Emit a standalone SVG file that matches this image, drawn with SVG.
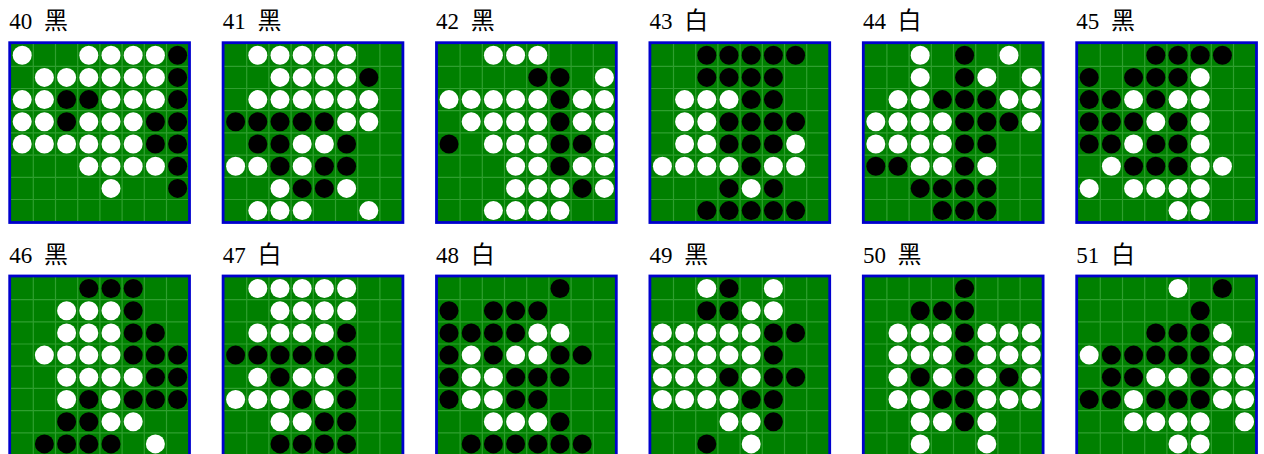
<svg xmlns="http://www.w3.org/2000/svg" xmlns:xlink="http://www.w3.org/1999/xlink" width="1264" height="454" viewBox="0 0 1264 454">
<style>
.lbl{font-family:"Liberation Serif",serif;font-size:23px;fill:#000}
.cjk{font-family:"Noto Sans CJK SC",sans-serif;font-size:24px}
</style>
<defs>
<g id="bd">
<rect width="182.6" height="182.6" fill="#0000cd"/>
<rect x="2.8" y="2.8" width="177" height="177" fill="#008000"/>
<path d="M25 2.8V179.8M47.2 2.8V179.8M69.4 2.8V179.8M91.6 2.8V179.8M113.8 2.8V179.8M136 2.8V179.8M158.2 2.8V179.8M2.8 25H179.8M2.8 47.2H179.8M2.8 69.4H179.8M2.8 91.6H179.8M2.8 113.8H179.8M2.8 136H179.8M2.8 158.2H179.8" stroke="#2f9f2f" stroke-width="1.2" fill="none"/>
</g>
<circle id="w" cx="13.9" cy="13.9" r="9.5" fill="#fff"/>
<circle id="k" cx="13.9" cy="13.9" r="9.5" fill="#000"/>
</defs>

<g id="label-40"><text class="lbl" x="9.3" y="29.3">40<tspan class="cjk" x="44">黑</tspan></text></g>
<g id="board-40" transform="translate(8.3,41.3)">
<use href="#bd"/>
<use href="#w" x="0" y="0"/><use href="#w" x="66.6" y="0"/><use href="#w" x="88.8" y="0"/><use href="#w" x="111" y="0"/><use href="#w" x="133.2" y="0"/><use href="#k" x="155.4" y="0"/>
<use href="#w" x="22.2" y="22.2"/><use href="#w" x="44.4" y="22.2"/><use href="#w" x="66.6" y="22.2"/><use href="#w" x="88.8" y="22.2"/><use href="#w" x="111" y="22.2"/><use href="#w" x="133.2" y="22.2"/><use href="#k" x="155.4" y="22.2"/>
<use href="#w" x="0" y="44.4"/><use href="#w" x="22.2" y="44.4"/><use href="#k" x="44.4" y="44.4"/><use href="#k" x="66.6" y="44.4"/><use href="#w" x="88.8" y="44.4"/><use href="#w" x="111" y="44.4"/><use href="#w" x="133.2" y="44.4"/><use href="#k" x="155.4" y="44.4"/>
<use href="#w" x="0" y="66.6"/><use href="#w" x="22.2" y="66.6"/><use href="#k" x="44.4" y="66.6"/><use href="#w" x="66.6" y="66.6"/><use href="#w" x="88.8" y="66.6"/><use href="#w" x="111" y="66.6"/><use href="#k" x="133.2" y="66.6"/><use href="#k" x="155.4" y="66.6"/>
<use href="#w" x="0" y="88.8"/><use href="#w" x="22.2" y="88.8"/><use href="#w" x="44.4" y="88.8"/><use href="#w" x="66.6" y="88.8"/><use href="#w" x="88.8" y="88.8"/><use href="#w" x="111" y="88.8"/><use href="#k" x="133.2" y="88.8"/><use href="#k" x="155.4" y="88.8"/>
<use href="#w" x="66.6" y="111"/><use href="#w" x="88.8" y="111"/><use href="#w" x="111" y="111"/><use href="#w" x="133.2" y="111"/><use href="#k" x="155.4" y="111"/>
<use href="#w" x="88.8" y="133.2"/><use href="#k" x="155.4" y="133.2"/>
</g>

<g id="label-41"><text class="lbl" x="222.7" y="29.3">41<tspan class="cjk" x="257.4">黑</tspan></text></g>
<g id="board-41" transform="translate(221.7,41.3)">
<use href="#bd"/>
<use href="#w" x="22.2" y="0"/><use href="#w" x="44.4" y="0"/><use href="#w" x="66.6" y="0"/><use href="#w" x="88.8" y="0"/><use href="#w" x="111" y="0"/>
<use href="#w" x="44.4" y="22.2"/><use href="#w" x="66.6" y="22.2"/><use href="#w" x="88.8" y="22.2"/><use href="#w" x="111" y="22.2"/><use href="#k" x="133.2" y="22.2"/>
<use href="#w" x="22.2" y="44.4"/><use href="#w" x="44.4" y="44.4"/><use href="#w" x="66.6" y="44.4"/><use href="#w" x="88.8" y="44.4"/><use href="#w" x="111" y="44.4"/><use href="#w" x="133.2" y="44.4"/>
<use href="#k" x="0" y="66.6"/><use href="#k" x="22.2" y="66.6"/><use href="#k" x="44.4" y="66.6"/><use href="#k" x="66.6" y="66.6"/><use href="#k" x="88.8" y="66.6"/><use href="#w" x="111" y="66.6"/><use href="#w" x="133.2" y="66.6"/>
<use href="#k" x="22.2" y="88.8"/><use href="#k" x="44.4" y="88.8"/><use href="#w" x="66.6" y="88.8"/><use href="#w" x="88.8" y="88.8"/><use href="#k" x="111" y="88.8"/>
<use href="#w" x="0" y="111"/><use href="#w" x="22.2" y="111"/><use href="#k" x="44.4" y="111"/><use href="#w" x="66.6" y="111"/><use href="#k" x="88.8" y="111"/><use href="#k" x="111" y="111"/>
<use href="#w" x="44.4" y="133.2"/><use href="#k" x="66.6" y="133.2"/><use href="#k" x="88.8" y="133.2"/><use href="#w" x="111" y="133.2"/>
<use href="#w" x="22.2" y="155.4"/><use href="#w" x="44.4" y="155.4"/><use href="#w" x="66.6" y="155.4"/><use href="#w" x="133.2" y="155.4"/>
</g>

<g id="label-42"><text class="lbl" x="436.1" y="29.3">42<tspan class="cjk" x="470.8">黑</tspan></text></g>
<g id="board-42" transform="translate(435.1,41.3)">
<use href="#bd"/>
<use href="#w" x="44.4" y="0"/><use href="#w" x="66.6" y="0"/><use href="#w" x="88.8" y="0"/>
<use href="#k" x="88.8" y="22.2"/><use href="#k" x="111" y="22.2"/><use href="#w" x="155.4" y="22.2"/>
<use href="#w" x="0" y="44.4"/><use href="#w" x="22.2" y="44.4"/><use href="#w" x="44.4" y="44.4"/><use href="#w" x="66.6" y="44.4"/><use href="#w" x="88.8" y="44.4"/><use href="#k" x="111" y="44.4"/><use href="#w" x="133.2" y="44.4"/><use href="#w" x="155.4" y="44.4"/>
<use href="#w" x="22.2" y="66.6"/><use href="#w" x="44.4" y="66.6"/><use href="#w" x="66.6" y="66.6"/><use href="#w" x="88.8" y="66.6"/><use href="#k" x="111" y="66.6"/><use href="#w" x="133.2" y="66.6"/><use href="#w" x="155.4" y="66.6"/>
<use href="#k" x="0" y="88.8"/><use href="#w" x="44.4" y="88.8"/><use href="#w" x="66.6" y="88.8"/><use href="#w" x="88.8" y="88.8"/><use href="#k" x="111" y="88.8"/><use href="#k" x="133.2" y="88.8"/><use href="#w" x="155.4" y="88.8"/>
<use href="#w" x="66.6" y="111"/><use href="#w" x="88.8" y="111"/><use href="#k" x="111" y="111"/><use href="#w" x="133.2" y="111"/><use href="#w" x="155.4" y="111"/>
<use href="#w" x="66.6" y="133.2"/><use href="#w" x="88.8" y="133.2"/><use href="#w" x="111" y="133.2"/><use href="#k" x="133.2" y="133.2"/><use href="#w" x="155.4" y="133.2"/>
<use href="#w" x="44.4" y="155.4"/><use href="#w" x="66.6" y="155.4"/><use href="#w" x="88.8" y="155.4"/><use href="#w" x="111" y="155.4"/>
</g>

<g id="label-43"><text class="lbl" x="649.5" y="29.3">43<tspan class="cjk" x="684.2">白</tspan></text></g>
<g id="board-43" transform="translate(648.5,41.3)">
<use href="#bd"/>
<use href="#k" x="44.4" y="0"/><use href="#k" x="66.6" y="0"/><use href="#k" x="88.8" y="0"/><use href="#k" x="111" y="0"/><use href="#k" x="133.2" y="0"/>
<use href="#k" x="44.4" y="22.2"/><use href="#k" x="66.6" y="22.2"/><use href="#k" x="88.8" y="22.2"/><use href="#k" x="111" y="22.2"/>
<use href="#w" x="22.2" y="44.4"/><use href="#w" x="44.4" y="44.4"/><use href="#w" x="66.6" y="44.4"/><use href="#k" x="88.8" y="44.4"/><use href="#k" x="111" y="44.4"/>
<use href="#w" x="22.2" y="66.6"/><use href="#w" x="44.4" y="66.6"/><use href="#k" x="66.6" y="66.6"/><use href="#k" x="88.8" y="66.6"/><use href="#k" x="111" y="66.6"/><use href="#k" x="133.2" y="66.6"/>
<use href="#w" x="22.2" y="88.8"/><use href="#w" x="44.4" y="88.8"/><use href="#k" x="66.6" y="88.8"/><use href="#k" x="88.8" y="88.8"/><use href="#k" x="111" y="88.8"/><use href="#w" x="133.2" y="88.8"/>
<use href="#w" x="0" y="111"/><use href="#w" x="22.2" y="111"/><use href="#w" x="44.4" y="111"/><use href="#w" x="66.6" y="111"/><use href="#k" x="88.8" y="111"/><use href="#w" x="111" y="111"/><use href="#w" x="133.2" y="111"/>
<use href="#k" x="66.6" y="133.2"/><use href="#w" x="88.8" y="133.2"/><use href="#k" x="111" y="133.2"/>
<use href="#k" x="44.4" y="155.4"/><use href="#k" x="66.6" y="155.4"/><use href="#k" x="88.8" y="155.4"/><use href="#k" x="111" y="155.4"/><use href="#k" x="133.2" y="155.4"/>
</g>

<g id="label-44"><text class="lbl" x="862.9" y="29.3">44<tspan class="cjk" x="897.6">白</tspan></text></g>
<g id="board-44" transform="translate(861.9,41.3)">
<use href="#bd"/>
<use href="#w" x="44.4" y="0"/><use href="#k" x="88.8" y="0"/><use href="#w" x="133.2" y="0"/>
<use href="#w" x="44.4" y="22.2"/><use href="#k" x="88.8" y="22.2"/><use href="#w" x="111" y="22.2"/><use href="#w" x="155.4" y="22.2"/>
<use href="#w" x="22.2" y="44.4"/><use href="#w" x="44.4" y="44.4"/><use href="#k" x="66.6" y="44.4"/><use href="#k" x="88.8" y="44.4"/><use href="#k" x="111" y="44.4"/><use href="#w" x="133.2" y="44.4"/><use href="#w" x="155.4" y="44.4"/>
<use href="#w" x="0" y="66.6"/><use href="#w" x="22.2" y="66.6"/><use href="#w" x="44.4" y="66.6"/><use href="#w" x="66.6" y="66.6"/><use href="#k" x="88.8" y="66.6"/><use href="#k" x="111" y="66.6"/><use href="#k" x="133.2" y="66.6"/><use href="#w" x="155.4" y="66.6"/>
<use href="#w" x="0" y="88.8"/><use href="#w" x="22.2" y="88.8"/><use href="#w" x="44.4" y="88.8"/><use href="#w" x="66.6" y="88.8"/><use href="#k" x="88.8" y="88.8"/><use href="#k" x="111" y="88.8"/>
<use href="#k" x="0" y="111"/><use href="#k" x="22.2" y="111"/><use href="#w" x="44.4" y="111"/><use href="#w" x="66.6" y="111"/><use href="#k" x="88.8" y="111"/><use href="#w" x="111" y="111"/>
<use href="#k" x="44.4" y="133.2"/><use href="#k" x="66.6" y="133.2"/><use href="#k" x="88.8" y="133.2"/><use href="#k" x="111" y="133.2"/>
<use href="#k" x="66.6" y="155.4"/><use href="#k" x="88.8" y="155.4"/><use href="#k" x="111" y="155.4"/>
</g>

<g id="label-45"><text class="lbl" x="1076.3" y="29.3">45<tspan class="cjk" x="1111">黑</tspan></text></g>
<g id="board-45" transform="translate(1075.3,41.3)">
<use href="#bd"/>
<use href="#k" x="66.6" y="0"/><use href="#k" x="88.8" y="0"/><use href="#k" x="111" y="0"/><use href="#k" x="133.2" y="0"/>
<use href="#k" x="0" y="22.2"/><use href="#k" x="44.4" y="22.2"/><use href="#k" x="66.6" y="22.2"/><use href="#k" x="88.8" y="22.2"/><use href="#w" x="111" y="22.2"/>
<use href="#k" x="0" y="44.4"/><use href="#k" x="22.2" y="44.4"/><use href="#w" x="44.4" y="44.4"/><use href="#k" x="66.6" y="44.4"/><use href="#w" x="88.8" y="44.4"/><use href="#w" x="111" y="44.4"/>
<use href="#k" x="0" y="66.6"/><use href="#k" x="22.2" y="66.6"/><use href="#k" x="44.4" y="66.6"/><use href="#w" x="66.6" y="66.6"/><use href="#k" x="88.8" y="66.6"/><use href="#w" x="111" y="66.6"/>
<use href="#k" x="0" y="88.8"/><use href="#k" x="22.2" y="88.8"/><use href="#w" x="44.4" y="88.8"/><use href="#k" x="66.6" y="88.8"/><use href="#k" x="88.8" y="88.8"/><use href="#w" x="111" y="88.8"/>
<use href="#w" x="22.2" y="111"/><use href="#k" x="44.4" y="111"/><use href="#k" x="66.6" y="111"/><use href="#k" x="88.8" y="111"/><use href="#w" x="111" y="111"/><use href="#w" x="133.2" y="111"/>
<use href="#w" x="0" y="133.2"/><use href="#w" x="44.4" y="133.2"/><use href="#w" x="66.6" y="133.2"/><use href="#w" x="88.8" y="133.2"/><use href="#w" x="111" y="133.2"/>
<use href="#w" x="88.8" y="155.4"/><use href="#w" x="111" y="155.4"/>
</g>

<g id="label-46"><text class="lbl" x="9.3" y="263">46<tspan class="cjk" x="44">黑</tspan></text></g>
<g id="board-46" transform="translate(8.3,274.6)">
<use href="#bd"/>
<use href="#k" x="66.6" y="0"/><use href="#k" x="88.8" y="0"/><use href="#k" x="111" y="0"/>
<use href="#w" x="44.4" y="22.2"/><use href="#w" x="66.6" y="22.2"/><use href="#w" x="88.8" y="22.2"/><use href="#k" x="111" y="22.2"/>
<use href="#w" x="44.4" y="44.4"/><use href="#w" x="66.6" y="44.4"/><use href="#w" x="88.8" y="44.4"/><use href="#k" x="111" y="44.4"/><use href="#k" x="133.2" y="44.4"/>
<use href="#w" x="22.2" y="66.6"/><use href="#w" x="44.4" y="66.6"/><use href="#w" x="66.6" y="66.6"/><use href="#w" x="88.8" y="66.6"/><use href="#k" x="111" y="66.6"/><use href="#k" x="133.2" y="66.6"/><use href="#k" x="155.4" y="66.6"/>
<use href="#w" x="44.4" y="88.8"/><use href="#w" x="66.6" y="88.8"/><use href="#w" x="88.8" y="88.8"/><use href="#w" x="111" y="88.8"/><use href="#k" x="133.2" y="88.8"/><use href="#k" x="155.4" y="88.8"/>
<use href="#w" x="44.4" y="111"/><use href="#k" x="66.6" y="111"/><use href="#w" x="88.8" y="111"/><use href="#k" x="111" y="111"/><use href="#k" x="133.2" y="111"/><use href="#k" x="155.4" y="111"/>
<use href="#k" x="44.4" y="133.2"/><use href="#k" x="66.6" y="133.2"/><use href="#w" x="88.8" y="133.2"/><use href="#w" x="111" y="133.2"/>
<use href="#k" x="22.2" y="155.4"/><use href="#k" x="44.4" y="155.4"/><use href="#k" x="66.6" y="155.4"/><use href="#k" x="88.8" y="155.4"/><use href="#w" x="133.2" y="155.4"/>
</g>

<g id="label-47"><text class="lbl" x="222.7" y="263">47<tspan class="cjk" x="257.4">白</tspan></text></g>
<g id="board-47" transform="translate(221.7,274.6)">
<use href="#bd"/>
<use href="#w" x="22.2" y="0"/><use href="#w" x="44.4" y="0"/><use href="#w" x="66.6" y="0"/><use href="#w" x="88.8" y="0"/><use href="#w" x="111" y="0"/>
<use href="#w" x="44.4" y="22.2"/><use href="#w" x="66.6" y="22.2"/><use href="#w" x="88.8" y="22.2"/><use href="#w" x="111" y="22.2"/>
<use href="#w" x="22.2" y="44.4"/><use href="#w" x="44.4" y="44.4"/><use href="#w" x="66.6" y="44.4"/><use href="#w" x="88.8" y="44.4"/><use href="#k" x="111" y="44.4"/>
<use href="#k" x="0" y="66.6"/><use href="#k" x="22.2" y="66.6"/><use href="#k" x="44.4" y="66.6"/><use href="#k" x="66.6" y="66.6"/><use href="#k" x="88.8" y="66.6"/><use href="#k" x="111" y="66.6"/>
<use href="#w" x="22.2" y="88.8"/><use href="#k" x="44.4" y="88.8"/><use href="#w" x="66.6" y="88.8"/><use href="#w" x="88.8" y="88.8"/><use href="#k" x="111" y="88.8"/>
<use href="#w" x="0" y="111"/><use href="#w" x="22.2" y="111"/><use href="#w" x="44.4" y="111"/><use href="#k" x="66.6" y="111"/><use href="#w" x="88.8" y="111"/><use href="#k" x="111" y="111"/>
<use href="#w" x="44.4" y="133.2"/><use href="#w" x="66.6" y="133.2"/><use href="#k" x="88.8" y="133.2"/><use href="#k" x="111" y="133.2"/>
<use href="#k" x="44.4" y="155.4"/><use href="#k" x="66.6" y="155.4"/><use href="#k" x="88.8" y="155.4"/><use href="#k" x="111" y="155.4"/>
</g>

<g id="label-48"><text class="lbl" x="436.1" y="263">48<tspan class="cjk" x="470.8">白</tspan></text></g>
<g id="board-48" transform="translate(435.1,274.6)">
<use href="#bd"/>
<use href="#k" x="111" y="0"/>
<use href="#k" x="0" y="22.2"/><use href="#k" x="44.4" y="22.2"/><use href="#k" x="66.6" y="22.2"/><use href="#k" x="88.8" y="22.2"/>
<use href="#k" x="0" y="44.4"/><use href="#k" x="22.2" y="44.4"/><use href="#k" x="44.4" y="44.4"/><use href="#k" x="66.6" y="44.4"/><use href="#w" x="88.8" y="44.4"/><use href="#w" x="111" y="44.4"/>
<use href="#k" x="0" y="66.6"/><use href="#w" x="22.2" y="66.6"/><use href="#k" x="44.4" y="66.6"/><use href="#w" x="66.6" y="66.6"/><use href="#w" x="88.8" y="66.6"/><use href="#k" x="111" y="66.6"/><use href="#k" x="133.2" y="66.6"/>
<use href="#k" x="0" y="88.8"/><use href="#w" x="22.2" y="88.8"/><use href="#w" x="44.4" y="88.8"/><use href="#k" x="66.6" y="88.8"/><use href="#k" x="88.8" y="88.8"/><use href="#k" x="111" y="88.8"/>
<use href="#k" x="0" y="111"/><use href="#w" x="22.2" y="111"/><use href="#w" x="44.4" y="111"/><use href="#k" x="66.6" y="111"/><use href="#k" x="88.8" y="111"/>
<use href="#w" x="44.4" y="133.2"/><use href="#w" x="66.6" y="133.2"/><use href="#w" x="88.8" y="133.2"/><use href="#k" x="111" y="133.2"/>
<use href="#k" x="22.2" y="155.4"/><use href="#k" x="44.4" y="155.4"/><use href="#k" x="66.6" y="155.4"/><use href="#k" x="88.8" y="155.4"/><use href="#k" x="111" y="155.4"/><use href="#k" x="133.2" y="155.4"/>
</g>

<g id="label-49"><text class="lbl" x="649.5" y="263">49<tspan class="cjk" x="684.2">黑</tspan></text></g>
<g id="board-49" transform="translate(648.5,274.6)">
<use href="#bd"/>
<use href="#w" x="44.4" y="0"/><use href="#k" x="66.6" y="0"/><use href="#w" x="111" y="0"/>
<use href="#k" x="44.4" y="22.2"/><use href="#k" x="66.6" y="22.2"/><use href="#w" x="88.8" y="22.2"/><use href="#w" x="111" y="22.2"/>
<use href="#w" x="0" y="44.4"/><use href="#w" x="22.2" y="44.4"/><use href="#w" x="44.4" y="44.4"/><use href="#w" x="66.6" y="44.4"/><use href="#w" x="88.8" y="44.4"/><use href="#k" x="111" y="44.4"/><use href="#k" x="133.2" y="44.4"/>
<use href="#w" x="0" y="66.6"/><use href="#w" x="22.2" y="66.6"/><use href="#w" x="44.4" y="66.6"/><use href="#w" x="66.6" y="66.6"/><use href="#w" x="88.8" y="66.6"/><use href="#k" x="111" y="66.6"/>
<use href="#w" x="0" y="88.8"/><use href="#w" x="22.2" y="88.8"/><use href="#w" x="44.4" y="88.8"/><use href="#k" x="66.6" y="88.8"/><use href="#w" x="88.8" y="88.8"/><use href="#k" x="111" y="88.8"/><use href="#k" x="133.2" y="88.8"/>
<use href="#w" x="0" y="111"/><use href="#w" x="22.2" y="111"/><use href="#w" x="44.4" y="111"/><use href="#w" x="66.6" y="111"/><use href="#k" x="88.8" y="111"/><use href="#k" x="111" y="111"/>
<use href="#w" x="66.6" y="133.2"/><use href="#w" x="88.8" y="133.2"/><use href="#k" x="111" y="133.2"/>
<use href="#k" x="44.4" y="155.4"/><use href="#w" x="88.8" y="155.4"/>
</g>

<g id="label-50"><text class="lbl" x="862.9" y="263">50<tspan class="cjk" x="897.6">黑</tspan></text></g>
<g id="board-50" transform="translate(861.9,274.6)">
<use href="#bd"/>
<use href="#k" x="88.8" y="0"/>
<use href="#k" x="44.4" y="22.2"/><use href="#k" x="66.6" y="22.2"/><use href="#k" x="88.8" y="22.2"/>
<use href="#w" x="22.2" y="44.4"/><use href="#w" x="44.4" y="44.4"/><use href="#w" x="66.6" y="44.4"/><use href="#k" x="88.8" y="44.4"/><use href="#w" x="111" y="44.4"/><use href="#w" x="133.2" y="44.4"/><use href="#w" x="155.4" y="44.4"/>
<use href="#w" x="22.2" y="66.6"/><use href="#w" x="44.4" y="66.6"/><use href="#w" x="66.6" y="66.6"/><use href="#k" x="88.8" y="66.6"/><use href="#w" x="111" y="66.6"/><use href="#w" x="133.2" y="66.6"/><use href="#w" x="155.4" y="66.6"/>
<use href="#w" x="22.2" y="88.8"/><use href="#k" x="44.4" y="88.8"/><use href="#w" x="66.6" y="88.8"/><use href="#k" x="88.8" y="88.8"/><use href="#w" x="111" y="88.8"/><use href="#k" x="133.2" y="88.8"/><use href="#w" x="155.4" y="88.8"/>
<use href="#w" x="22.2" y="111"/><use href="#w" x="44.4" y="111"/><use href="#k" x="66.6" y="111"/><use href="#k" x="88.8" y="111"/><use href="#w" x="111" y="111"/><use href="#w" x="133.2" y="111"/><use href="#w" x="155.4" y="111"/>
<use href="#w" x="44.4" y="133.2"/><use href="#w" x="66.6" y="133.2"/><use href="#k" x="88.8" y="133.2"/><use href="#w" x="111" y="133.2"/>
<use href="#w" x="44.4" y="155.4"/><use href="#w" x="111" y="155.4"/>
</g>

<g id="label-51"><text class="lbl" x="1076.3" y="263">51<tspan class="cjk" x="1111">白</tspan></text></g>
<g id="board-51" transform="translate(1075.3,274.6)">
<use href="#bd"/>
<use href="#w" x="88.8" y="0"/><use href="#k" x="133.2" y="0"/>
<use href="#k" x="111" y="22.2"/>
<use href="#k" x="66.6" y="44.4"/><use href="#k" x="88.8" y="44.4"/><use href="#k" x="111" y="44.4"/><use href="#w" x="133.2" y="44.4"/>
<use href="#w" x="0" y="66.6"/><use href="#k" x="22.2" y="66.6"/><use href="#k" x="44.4" y="66.6"/><use href="#k" x="66.6" y="66.6"/><use href="#k" x="88.8" y="66.6"/><use href="#k" x="111" y="66.6"/><use href="#w" x="133.2" y="66.6"/><use href="#w" x="155.4" y="66.6"/>
<use href="#k" x="22.2" y="88.8"/><use href="#k" x="44.4" y="88.8"/><use href="#w" x="66.6" y="88.8"/><use href="#w" x="88.8" y="88.8"/><use href="#k" x="111" y="88.8"/><use href="#w" x="133.2" y="88.8"/><use href="#w" x="155.4" y="88.8"/>
<use href="#k" x="0" y="111"/><use href="#k" x="22.2" y="111"/><use href="#w" x="44.4" y="111"/><use href="#k" x="66.6" y="111"/><use href="#k" x="88.8" y="111"/><use href="#k" x="111" y="111"/><use href="#w" x="133.2" y="111"/><use href="#w" x="155.4" y="111"/>
<use href="#w" x="44.4" y="133.2"/><use href="#w" x="66.6" y="133.2"/><use href="#w" x="88.8" y="133.2"/><use href="#w" x="111" y="133.2"/><use href="#w" x="155.4" y="133.2"/>
<use href="#w" x="88.8" y="155.4"/><use href="#w" x="111" y="155.4"/>
</g>
</svg>
